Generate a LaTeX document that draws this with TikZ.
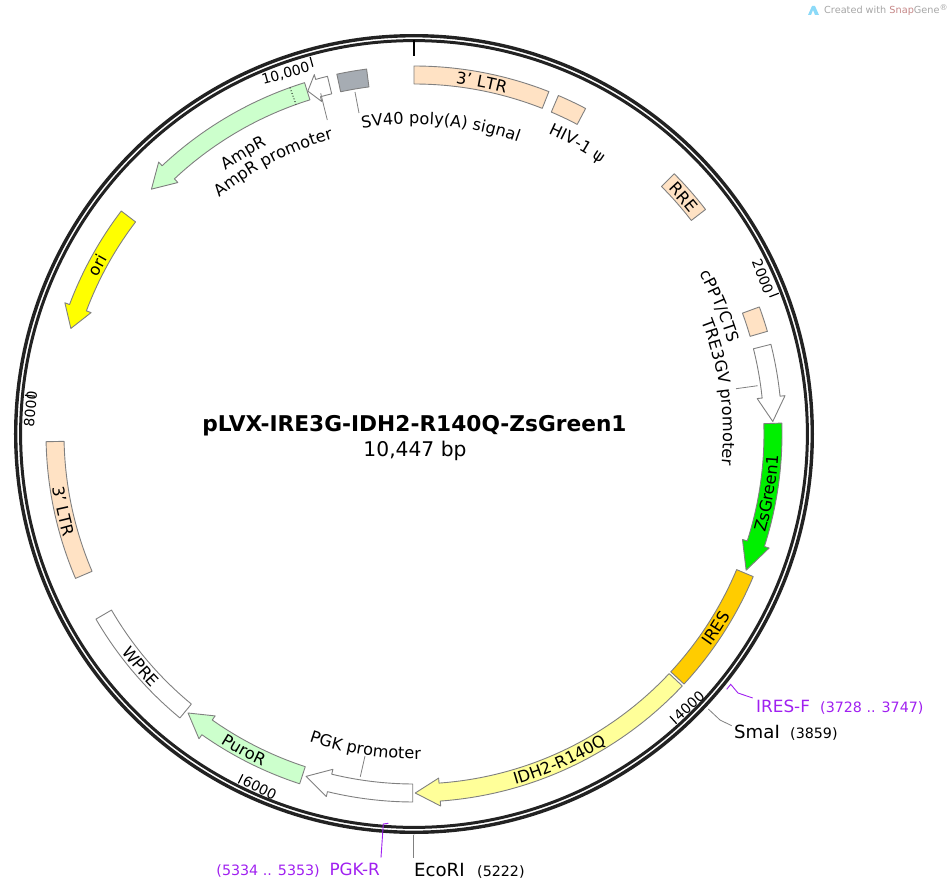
\documentclass[tikz,border=0pt]{standalone}
\usepackage{fontspec}
\usepackage{xcolor}
\usetikzlibrary{decorations.text}
\setmainfont[Scale=1.62]{DejaVu Sans}
\definecolor{peach}{HTML}{FFE2C4}
\definecolor{ampgreen}{HTML}{CCFFCC}
\definecolor{zsgreen}{HTML}{00F000}
\definecolor{iresorange}{HTML}{FFCC00}
\definecolor{idhyellow}{HTML}{FFFF99}
\definecolor{oriyellow}{HTML}{FFFF00}
\definecolor{polygray}{HTML}{A6ACB3}
\definecolor{primer}{HTML}{A020F0}
\definecolor{ringblack}{HTML}{222222}
\tikzset{feature/.style={draw=gray,line width=0.9pt,line join=round},
  leader/.style={draw=gray,line width=0.8pt},
  primerline/.style={draw=primer,line width=0.9pt},
  ticklabel/.style={inner sep=0pt,font=\fontsize{8.64}{10}\selectfont},
  sitename/.style={inner sep=0pt,anchor=base west,font=\fontsize{11.2}{13}\selectfont},
  primername/.style={inner sep=0pt,anchor=base west,text=primer,font=\fontsize{10.4}{12}\selectfont},
  sitelabel/.style={inner sep=0pt,anchor=base west,font=\fontsize{8.8}{11}\selectfont}}
\newcommand{\boxarc}[3]{\draw[feature,fill=#3] ({90-#1}:368pt) arc[start angle={90-#1},end angle={90-#2},radius=368pt] -- ({90-#2}:350pt) arc[start angle={90-#2},end angle={90-#1},radius=350pt] -- cycle;}
\newcommand{\arrowarc}[4]{\draw[feature,fill=#4] ({90-#1}:368pt) arc[start angle={90-#1},end angle={90-#2},radius=368pt] -- ({90-#2}:373pt) -- ({90-#3}:359pt) -- ({90-#2}:345pt) -- ({90-#2}:350pt) arc[start angle={90-#2},end angle={90-#1},radius=350pt] -- cycle;}
\newcommand{\cwlabel}[3]{\path[decorate,decoration={text along path,text={#3},text align=center}] ({120-#1}:#2pt) arc[start angle={120-#1},delta angle=-60,radius=#2pt];}
\newcommand{\ccwlabel}[3]{\path[decorate,decoration={text along path,text={#3},text align=center}] ({60-#1}:#2pt) arc[start angle={60-#1},delta angle=60,radius=#2pt];}
\begin{document}
\begin{tikzpicture}[x=1pt,y=1pt]
\useasboundingbox (-414,-453) rectangle (537,434);
% backbone
\draw[ringblack,line width=3.4pt] (0,0) circle (398.3pt);
\draw[ringblack,line width=3pt] (0,0) circle (393.4pt);
\draw[black,line width=2pt] (90:394pt) -- (90:378pt);
\foreach \t in {68.9,137.8,206.7,275.7,344.6} {\draw[black,line width=1.2pt] ({90-\t}:391pt) -- ({90-\t}:381pt);}
\node[ticklabel,rotate=-68.9,anchor=base east] (tick2000) at ({90-68.4}:377pt) {2000};
\node[ticklabel,rotate=42.2,anchor=base west] (tick4000) at ({90-137.3}:391pt) {4000};
\node[ticklabel,rotate=-26.7,anchor=base west] (tick6000) at ({90-206.2}:391pt) {6000};
\node[ticklabel,rotate=84.3,anchor=base east] (tick8000) at ({90-276.4}:379pt) {8000};
\node[ticklabel,rotate=15.4,anchor=base east] (tick10000) at ({90-344.1}:377pt) {10,000};
% features
\foreach \a/\b/\c in {0/21.5/peach,23.1/27.8/peach,45/52.4/peach,69.8/73.8/peach,112.8/132.8/iresorange,219.5/239.8/white,246.9/268.8/peach,347.9/352.6/polygray} {\boxarc{\a}{\b}{\c}}
\foreach \a/\b/\d/\c in {75.9/84.1/88/white,88.3/107.8/112.3/zsgreen,133.2/175.9/179.8/idhyellow,180.2/193.6/197.5/white,198.1/215.2/219/ampgreen,307.3/290.6/287.1/oriyellow,342.7/316.8/313/ampgreen,346.4/344.5/342.8/white} {\arrowarc{\a}{\b}{\d}{\c}}
\draw[black,line width=0.9pt,dotted] ({90-340.3}:368pt) -- ({90-340.3}:350pt);
% labels on the features
\cwlabel{10.9}{353}{3' LTR}
\cwlabel{48.7}{353}{RRE}
\ccwlabel{99.5}{365}{ZsGreen1}
\ccwlabel{122.8}{365}{IRES}
\ccwlabel{156}{365}{IDH2-R140Q}
\ccwlabel{208.3}{365}{PuroR}
\ccwlabel{229.6}{365}{WPRE}
\ccwlabel{257.6}{365}{3' LTR}
\cwlabel{298}{353}{ori}
% labels beside the features
\cwlabel{5}{310}{SV40 poly(A) signal}
\cwlabel{29.3}{329}{HIV-1 ψ}
\cwlabel{67.3}{327}{cPPT/CTS}
\cwlabel{82.2}{309}{TRE3GV promoter}
\cwlabel{328.7}{324}{AmpR}
\cwlabel{332.6}{306}{AmpR promoter}
\ccwlabel{188.8}{325}{PGK promoter}
% leaders
\coordinate (sv40a) at (-59,342);
\coordinate (sv40b) at (-55,321);
\draw[leader] (sv40a) -- (sv40b);
\coordinate (ampa) at (-93.3,340.7);
\coordinate (ampb) at (-86.7,314);
\draw[leader] (ampa) -- (ampb);
\coordinate (trea) at (343.7,48.3);
\coordinate (treb) at (322,45.3);
\draw[leader] (trea) -- (treb);
\coordinate (pgka) at (-53.7,-342.7);
\coordinate (pgkb) at (-49,-322);
\draw[leader] (pgka) -- (pgkb);
% sites
\node[sitename] (ecori) at (0,-442) {EcoRI};
\node[sitelabel] (ecoripos) at (63,-442) {(5222)};
\coordinate (ecoria) at (-0.3,-401);
\coordinate (ecorib) at (-0.3,-424);
\draw[leader] (ecoria) -- (ecorib);
\node[sitename] (smai) at (320,-304) {SmaI};
\node[sitelabel] (smaipos) at (376,-304) {(3859)};
\coordinate (smaia) at (294.3,-275);
\coordinate (smaib) at (317.7,-291.7);
\draw[leader] (smaia) -- (306,-286) -- (smaib);
% primers
\node[primername] (iresf) at (342,-278) {IRES-F};
\node[sitelabel,text=primer] (iresfpos) at (406,-278) {(3728 .. 3747)};
\coordinate (iresfa) at (312.7,-255.3);
\coordinate (iresfb) at (316.7,-250.3);
\coordinate (iresfc) at (338.7,-264);
\draw[primerline] (iresfa) -- (iresfb) -- (324,-259) -- (iresfc);
\node[primername,anchor=base east] (pgkr) at (-34,-441) {PGK-R};
\node[sitelabel,anchor=base east,text=primer] (pgkrpos) at (-94,-441) {(5334 .. 5353)};
\coordinate (pgkra) at (-25.7,-389.3);
\coordinate (pgkrb) at (-30.7,-390);
\coordinate (pgkrc) at (-33,-423.7);
\draw[primerline] (pgkra) -- (pgkrb) -- (pgkrc);
% title
\node[inner sep=0pt,font=\fontsize{13.4}{16}\selectfont\bfseries] (title) at (0.5,8) {pLVX-IRE3G-IDH2-R140Q-ZsGreen1};
\node[inner sep=0pt,font=\fontsize{12.5}{15}\selectfont] (length) at (1,-17) {10,447 bp};
% watermark
\fill[cyan!45] (394,419) -- (398,428) -- (401,428) -- (405,419) -- (401,419) -- (399,424) -- (397,419) -- cycle;
\node[inner sep=0pt,anchor=west,text=gray!70,font=\fontsize{6}{8}\selectfont] (credit) at (410,424) {Created with \textcolor{red!35!gray!70}{Snap}Gene\textsuperscript{®}};
\end{tikzpicture}
\end{document}
